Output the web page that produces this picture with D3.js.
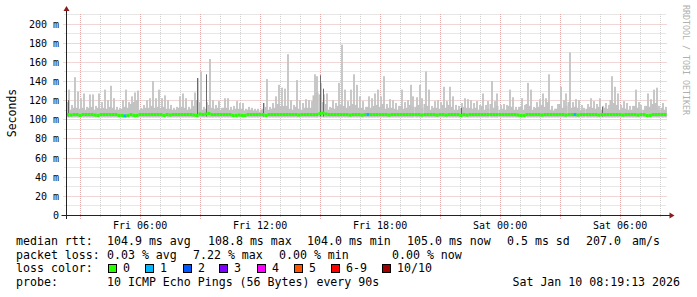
<!DOCTYPE html>
<html>
<head>
<meta charset="utf-8">
<script src="https://cdn.jsdelivr.net/npm/d3@7"></script>
<style>
  body { margin: 0; background: #fff; }
  text { font-family: "DejaVu Sans Mono", monospace; }
</style>
</head>
<body>
<svg id="chart"></svg>
<script>
// smokeping, last 30 hours, one step = 9 minutes (200 steps)
var endTime = new Date(2026, 0, 10, 8, 19, 13);
var stepMinutes = 9;

// highest ping of each step (ms)
var rttMax = [
  131,115,144,129,122,127,113,126,126,114,127,118,131,120,135,122,113,112,120,131,
  118,124,128,130,112,115,120,122,140,122,131,122,125,120,115,112,113,124,127,122,
  113,120,128,143,150,113,118,163,120,115,119,112,122,122,113,114,119,117,117,111,
  113,112,111,111,110,117,142,113,117,124,136,133,132,168,120,115,141,120,117,121,
  120,119,147,145,138,126,127,113,120,117,138,178,131,119,131,147,136,124,119,113,
  124,122,127,131,124,145,116,121,120,117,114,131,118,120,136,124,123,136,122,150,
  131,114,119,120,118,134,119,134,124,115,114,117,122,121,120,117,119,115,127,115,
  119,140,119,127,115,116,115,131,123,113,113,122,115,138,131,113,118,121,127,122,
  147,114,111,116,134,120,127,170,118,121,120,115,112,116,122,119,116,122,114,117,
  115,145,134,127,115,119,117,114,114,131,118,115,114,127,121,131,133,114,117,113
];

// upper bulk of the pings of each step (ms)
var rttUpper = [
  118,110,112,112,111,112,110,112,113,110,112,111,112,111,113,112,110,110,111,113,
  112,116,118,120,110,111,112,112,114,112,113,112,113,111,111,110,110,112,113,112,
  110,111,114,120,118,110,111,115,112,111,112,110,112,112,110,110,111,111,111,109,
  110,110,109,109,108,111,113,110,111,112,116,114,114,114,111,110,113,111,110,112,
  112,112,125,128,126,118,116,110,112,111,114,115,114,112,114,116,115,112,112,110,
  113,112,114,115,113,116,111,112,112,111,110,114,111,112,115,113,113,115,112,116,
  114,110,112,112,111,115,112,115,113,110,110,111,113,112,112,111,112,110,114,110,
  111,116,112,114,110,111,110,114,113,110,110,113,110,116,114,110,112,113,115,113,
  118,110,109,111,116,112,114,118,112,113,112,110,110,111,113,112,111,113,110,112,
  111,120,117,115,110,112,111,110,110,114,112,110,110,114,113,116,117,110,112,110
];

// median rtt of each step (ms)
var rttMedian = [
  105,104.5,105,105,104,105,105,105,105,104.5,104,105,105,105,105,105,105,104,104,103.5,
  104,105,104,104,105,105,105,105,105,105,105,105,104,105,104.5,105,105,105,105,105,
  105,105,104.5,104,105.5,105,105.5,106,105,105,105,105,105,105,105,104,104,104.5,104,104,
  105,105,105,105,105,105,104,105,105,105,105,105,105,105,105,105,105,104.5,105,105,
  105,105,105,105,106,106.5,105.5,105,105,105,105,105,105,105,104.5,105,105,105,104.5,105,
  105,105,105,105,105,105,105,104.5,105,105,105,105,105,105,105,105,105,105,104.5,105,
  105,105,105,104.5,105,105,104.5,105,105,105,105,104,105,104.5,105,105,105,105,105,105,
  105,105,105,105,105,105,105,105,105,105,104.5,104,104,105,105,105,105,105,104.5,105,
  105,105,105,105,105,105,104.5,105,105,105,104.5,105,105,105,105,105,105,104.5,105,105,
  105,105,105,105,105,104.5,105,105,105,105,104.5,105,105,104,104,105,105,105,105,105
];

// steps with lost pings
var lossStep = [19, 100, 169];
var lossCount = [1, 1, 1];

// darker smoke (several pings high)
var darkStep = [0, 43, 46, 65, 84, 85, 131, 178];
var darkTop = [120, 143, 147, 117, 146, 132, 112, 113];

var lossColors = ["#26ff00", "#00b8ff", "#0059ff", "#7e00ff", "#ff00ff", "#ff5500", "#ff0000", "#a10000"];
var lossLabels = ["0", "1", "2", "3", "4", "5", "6-9", "10/10"];
var rttStats = ["104.9 ms avg", "108.8 ms max", "104.0 ms min", "105.0 ms now", "0.5 ms sd", "207.0", "am/s"];
var lossStats = ["0.03 % avg", "7.22 % max", "0.00 % min", "0.00 % now"];
var probeText = "10 ICMP Echo Pings (56 Bytes) every 90s";
var stampText = "Sat Jan 10 08:19:13 2026";

var width = 697, height = 297;
var plotL = 66.5, plotR = 666.5, plotT = 14, plotB = 215;

var svg = d3.select("#chart").attr("width", width).attr("height", height);

var startTime = d3.timeHour.offset(endTime, -30);
var x = d3.scaleTime().domain([startTime, endTime]).range([plotL, plotR]);
var y = d3.scaleLinear().domain([0, 210]).range([plotB, plotT]);

function stepTime(i) { return d3.timeMinute.offset(startTime, i * stepMinutes); }
function stepX(i) { return x(stepTime(i)); }
var stepW = stepX(1) - stepX(0);

// grid: minor first
var hours = d3.timeHour.every(1).range(startTime, endTime);
svg.selectAll("line.vminor")
   .data(hours.filter(function(d){ return d.getHours() % 3 != 0; }))
   .enter().append("line")
   .attr("x1", function(d){ return Math.round(x(d)) + 0.5; })
   .attr("x2", function(d){ return Math.round(x(d)) + 0.5; })
   .attr("y1", plotT).attr("y2", plotB + 3)
   .attr("stroke", "#cfcfcf").attr("stroke-dasharray", "1,1");

svg.selectAll("line.hminor")
   .data(d3.range(10, 211, 20))
   .enter().append("line")
   .attr("x1", plotL - 2).attr("x2", plotR)
   .attr("y1", function(d){ return Math.round(y(d)) + 0.5; })
   .attr("y2", function(d){ return Math.round(y(d)) + 0.5; })
   .attr("stroke", "#cfcfcf").attr("stroke-dasharray", "1,1");

svg.selectAll("line.vmajor")
   .data(hours.filter(function(d){ return d.getHours() % 3 == 0; }))
   .enter().append("line")
   .attr("x1", function(d){ return Math.round(x(d)) + 0.5; })
   .attr("x2", function(d){ return Math.round(x(d)) + 0.5; })
   .attr("y1", plotT).attr("y2", plotB + 4)
   .attr("stroke", "#e4aaaa").attr("stroke-dasharray", "1,1");

var yTicks = d3.range(20, 201, 20);
svg.selectAll("line.hmajor")
   .data(yTicks)
   .enter().append("line")
   .attr("x1", plotL - 3).attr("x2", plotR)
   .attr("y1", function(d){ return Math.round(y(d)) + 0.5; })
   .attr("y2", function(d){ return Math.round(y(d)) + 0.5; })
   .attr("stroke", "#e4aaaa").attr("stroke-dasharray", "1,1");

// smoke: narrow spike to the highest ping, full-width body below
svg.append("g").selectAll("rect")
   .data(rttMax)
   .enter().append("rect")
   .attr("x", function(d, i){ return Math.round(stepX(i)) + 1; })
   .attr("width", 2)
   .attr("y", function(d){ return y(d); })
   .attr("height", function(d){ return y(102) - y(d); })
   .attr("fill", "#c8c8c8");

svg.append("g").selectAll("rect")
   .data(rttUpper)
   .enter().append("rect")
   .attr("x", function(d, i){ return stepX(i); })
   .attr("width", stepW)
   .attr("y", function(d, i){ return y(Math.min(d, rttMax[i])); })
   .attr("height", function(d, i){ return y(102) - y(Math.min(d, rttMax[i])); })
   .attr("fill", "#c2c2c2");

svg.append("g").selectAll("rect")
   .data(darkStep)
   .enter().append("rect")
   .attr("x", function(d){ return Math.round(stepX(d)) + 1; })
   .attr("width", 1)
   .attr("y", function(d, i){ return y(darkTop[i]); })
   .attr("height", function(d, i){ return y(103) - y(darkTop[i]); })
   .attr("fill", "#6a6a6a");

// median line coloured by loss
svg.append("g").selectAll("rect")
   .data(rttMedian)
   .enter().append("rect")
   .attr("x", function(d, i){ return stepX(i); })
   .attr("width", stepW + 0.01)
   .attr("y", function(d){ return y(d) - 1.5; })
   .attr("height", 3)
   .attr("fill", function(d, i){
     var k = lossStep.indexOf(i);
     return k < 0 ? lossColors[0] : lossColors[lossCount[k]];
   });

// axes
svg.append("line")
   .attr("x1", plotL - 5).attr("x2", plotR + 4)
   .attr("y1", plotB + 0.5).attr("y2", plotB + 0.5)
   .attr("stroke", "#222");
svg.append("line")
   .attr("x1", plotL).attr("x2", plotL)
   .attr("y1", plotB + 4).attr("y2", plotT - 4)
   .attr("stroke", "#222");
svg.append("path")
   .attr("d", "M" + (plotR + 3) + "," + (plotB - 2.5) + "L" + (plotR + 8) + "," + (plotB + 0.5) + "L" + (plotR + 3) + "," + (plotB + 3.5) + "Z")
   .attr("fill", "#8b1a1a");
svg.append("path")
   .attr("d", "M" + (plotL - 3) + "," + (plotT - 3) + "L" + plotL + "," + (plotT - 8) + "L" + (plotL + 3) + "," + (plotT - 3) + "Z")
   .attr("fill", "#8b1a1a");

// tick labels
svg.selectAll("text.ylab")
   .data([0].concat(yTicks))
   .enter().append("text")
   .attr("x", 59)
   .attr("y", function(d){ return y(d) + 4; })
   .attr("text-anchor", "end")
   .attr("font-size", 10)
   .attr("fill", "#000")
   .text(function(d){ return d == 0 ? "0" : d + " m"; });

var fmt = d3.timeFormat("%a %H:%M");
svg.selectAll("text.xlab")
   .data(hours.filter(function(d){ return d.getHours() % 6 == 0; }))
   .enter().append("text")
   .attr("x", function(d){ return x(d); })
   .attr("y", 229)
   .attr("text-anchor", "middle")
   .attr("font-size", 10)
   .attr("fill", "#000")
   .text(function(d){ return fmt(d); });

svg.append("text")
   .attr("transform", "translate(16,113) rotate(-90)")
   .attr("text-anchor", "middle")
   .attr("font-size", 11.5)
   .text("Seconds");

svg.append("text")
   .attr("transform", "translate(683,5) rotate(90)")
   .attr("font-size", 8.3)
   .attr("fill", "#b0b0b0")
   .text("RRDTOOL / TOBI OETIKER");

// legend
var fs = 11.6;
var row = function(i){ return 245 + i * 13.6; };
var legend = svg.append("g").attr("font-size", fs).attr("fill", "#000");

legend.append("text").attr("x", 16).attr("y", row(0)).text("median rtt:");
var rttX = [107, 208, 307, 407, 507, 586, 632];
legend.selectAll("text.rtt")
   .data(rttStats).enter().append("text")
   .attr("x", function(d, i){ return rttX[i]; })
   .attr("y", row(0))
   .text(function(d){ return d; });

legend.append("text").attr("x", 16).attr("y", row(1)).text("packet loss:");
var lossX = [107, 193, 279, 392];
legend.selectAll("text.loss")
   .data(lossStats).enter().append("text")
   .attr("x", function(d, i){ return lossX[i]; })
   .attr("y", row(1))
   .text(function(d){ return d; });

legend.append("text").attr("x", 16).attr("y", row(2)).text("loss color:");
var boxX = [108, 145, 183, 219, 257, 294, 331, 382];
legend.selectAll("rect.box")
   .data(lossColors).enter().append("rect")
   .attr("x", function(d, i){ return boxX[i] + 0.5; })
   .attr("y", 264.5)
   .attr("width", 8).attr("height", 8)
   .attr("fill", function(d){ return d; })
   .attr("stroke", "#000");
legend.selectAll("text.box")
   .data(lossLabels).enter().append("text")
   .attr("x", function(d, i){ return boxX[i] + 15; })
   .attr("y", row(2))
   .text(function(d){ return d; });

legend.append("text").attr("x", 16).attr("y", row(3)).text("probe:");
legend.append("text").attr("x", 107).attr("y", row(3)).text(probeText);
legend.append("text").attr("x", 680).attr("y", row(3)).attr("text-anchor", "end").text(stampText);
</script>
</body>
</html>
